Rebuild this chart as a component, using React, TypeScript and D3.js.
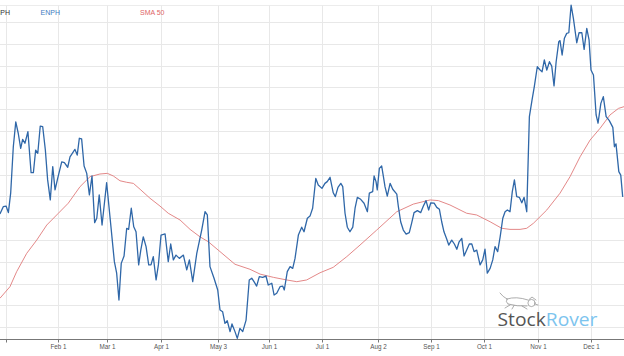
import React from "react";
import * as d3 from "d3";

const W = 624;
const H = 356;

// ENPH closing prices: day offset from 2021-01-01, price
const enphDays = [
  -1.7, 0.2, 1.8, 3.1, 4.4, 5.9, 7.3, 8.7, 10.1, 11.2, 12.5, 14.2, 16.0, 17.3, 18.6, 19.8, 21.2, 22.6, 24.1, 25.4,
  26.9, 28.3, 29.6, 31.1, 33.4, 34.9, 36.8, 38.1, 40.9, 42.2, 43.4, 44.7, 46.1, 47.6, 49.1, 50.6, 52.1, 53.3, 54.7, 56.3,
  58.9, 60.8, 63.3, 64.6, 65.9, 67.2, 68.8, 70.3, 71.4, 72.9, 74.3, 75.6, 77.1, 78.3, 79.7, 81.3, 82.8, 84.1, 85.4, 87.0,
  88.3, 89.8, 92.1, 93.9, 95.3, 96.8, 98.3, 100.2, 102.5, 104.4, 105.9, 107.8, 110.1, 112.9, 114.8, 116.1, 117.6, 119.9, 122.0, 123.3,
  124.8, 126.1, 127.4, 129.0, 130.1, 131.8, 133.1, 134.6, 136.2, 138.1, 139.9, 141.3, 142.6, 144.1, 145.6, 147.5, 149.4, 150.7, 152.7, 154.0,
  155.5, 157.4, 158.9, 159.8, 161.5, 163.1, 164.6, 165.9, 167.8, 169.7, 171.0, 172.9, 174.4, 175.9, 177.7, 179.1, 181.2, 182.9, 184.2, 185.8,
  187.6, 188.8, 190.3, 191.9, 193.0, 194.3, 195.6, 197.1, 198.7, 200.0, 201.3, 203.2, 205.1, 207.0, 208.1, 210.0, 210.8, 211.9, 212.6, 213.8,
  215.1, 216.1, 217.0, 218.3, 219.9, 221.4, 223.7, 224.6, 225.9, 227.4, 229.0, 230.8, 232.2, 233.5, 235.4, 237.3, 238.8, 240.3, 241.8, 243.0,
  244.9, 246.4, 247.9, 249.2, 250.5, 252.1, 253.2, 254.9, 256.4, 257.8, 259.1, 260.6, 261.9, 263.4, 264.9, 266.3, 267.6, 269.1, 271.0, 272.5,
  273.8, 275.1, 276.7, 278.2, 279.5, 281.0, 282.4, 283.9, 285.2, 286.5, 288.0, 289.3, 290.5, 291.8, 293.3, 294.7, 296.0, 297.5, 299.0, 300.5,
  301.8, 303.5, 305.1, 306.2, 307.5, 308.9, 310.4, 311.7, 313.0, 314.2, 315.7, 316.4, 317.6, 318.9, 320.2, 321.4, 322.7, 324.0, 325.9, 327.2,
  328.8, 330.1, 331.6, 332.9, 334.0, 335.4, 336.9, 338.0, 339.6, 341.0, 342.6, 344.4, 346.4, 347.3, 348.2, 349.8, 350.9, 352.0,
];
const enphPrices = [
  172.2, 175.5, 175.8, 172.8, 181.7, 203.0, 214.4, 209.2, 202.3, 206.4, 204.6, 209.9, 191.1, 191.1, 201.5, 200.0, 212.5, 212.2, 201.5, 187.8,
  178.6, 193.9, 183.2, 188.5, 196.1, 195.7, 193.6, 198.4, 201.8, 199.2, 206.9, 206.6, 194.2, 190.8, 180.9, 189.6, 168.2, 170.2, 180.9, 167.1,
  186.5, 170.9, 150.3, 145.0, 132.7, 149.5, 152.9, 165.6, 165.1, 174.8, 166.3, 164.0, 148.8, 155.6, 161.7, 157.2, 148.8, 148.8, 152.6, 141.9,
  148.8, 162.5, 163.0, 150.3, 158.4, 151.1, 153.3, 151.8, 153.3, 146.5, 151.1, 141.1, 154.1, 164.8, 173.2, 171.7, 148.0, 142.7, 137.3, 128.1,
  127.3, 122.0, 123.2, 118.2, 121.7, 118.2, 115.1, 119.7, 118.2, 123.5, 141.9, 142.7, 141.1, 139.1, 143.4, 143.1, 143.7, 139.6, 140.4, 135.0,
  135.8, 138.8, 139.1, 137.3, 145.7, 148.0, 147.2, 151.8, 162.5, 166.1, 164.0, 170.2, 171.2, 174.8, 188.5, 185.5, 183.9, 186.2, 187.0, 189.0,
  181.9, 180.1, 184.4, 186.2, 184.7, 172.5, 166.1, 164.0, 166.1, 174.8, 179.8, 178.9, 177.1, 173.2, 181.7, 182.4, 189.6, 187.0, 183.2, 193.1,
  194.2, 189.3, 184.7, 180.4, 186.2, 183.5, 181.3, 175.5, 168.6, 164.8, 162.9, 163.6, 168.2, 172.8, 173.7, 172.8, 175.8, 178.3, 174.0, 177.3,
  177.1, 175.2, 174.3, 168.6, 164.0, 160.6, 157.9, 160.2, 158.4, 156.0, 159.4, 161.0, 152.9, 155.6, 158.4, 158.4, 154.9, 155.6, 148.8, 151.1,
  156.0, 145.0, 147.2, 151.1, 157.2, 154.9, 161.7, 170.2, 173.2, 174.0, 173.2, 182.4, 187.8, 180.1, 179.8, 177.3, 179.8, 173.2, 216.8, 224.4,
  230.6, 239.7, 238.2, 237.4, 242.8, 238.2, 242.0, 240.0, 230.9, 242.0, 251.2, 251.7, 245.1, 252.8, 255.0, 255.3, 268.0, 261.9, 250.7, 255.3,
  255.3, 247.7, 257.3, 252.0, 238.2, 235.9, 217.6, 213.8, 222.9, 226.0, 216.8, 215.0, 211.9, 203.0, 204.3, 191.6, 190.0, 180.0,
];

// 50-day simple moving average
const smaDays = [
  -1.7, 4.0, 7.8, 13.5, 19.2, 24.9, 31.5, 37.1, 43.8, 49.5, 55.1, 59.3, 62.7, 66.5, 70.3, 74.1, 77.9, 83.5, 89.2, 93.9,
  100.6, 106.3, 111.9, 116.7, 123.3, 131.8, 140.3, 146.0, 153.6, 161.2, 166.9, 172.5, 180.1, 187.6, 195.3, 202.8, 212.3, 223.7, 233.1, 242.6,
  247.3, 253.9, 263.4, 269.1, 276.7, 283.3, 288.0, 293.7, 297.5, 301.3, 308.9, 316.4, 322.1, 327.8, 333.5, 339.2, 344.8, 349.6, 352.8,
];
const smaValues = [
  133.5, 138.8, 145.7, 154.1, 160.2, 167.1, 172.5, 177.1, 184.7, 189.3, 190.5, 190.8, 189.6, 187.4, 186.7, 186.2, 183.5, 179.4, 175.8, 172.5,
  169.4, 165.1, 161.7, 159.4, 154.9, 149.1, 146.8, 144.6, 143.1, 141.9, 141.1, 141.9, 145.2, 147.7, 152.6, 157.9, 164.8, 173.2, 176.7, 178.6,
  178.3, 176.3, 172.5, 171.7, 168.6, 165.6, 165.1, 165.1, 165.6, 167.9, 174.0, 181.7, 189.3, 198.4, 206.1, 211.5, 217.6, 220.6, 221.4,
];

const tickDates = ["2021-01-03", "2021-02-01", "2021-03-01", "2021-04-01", "2021-05-03", "2021-06-01", "2021-07-01", "2021-08-02", "2021-09-01", "2021-10-01", "2021-11-01", "2021-12-01"];
const tickLabels = ["", "Feb 1", "Mar 1", "Apr 1", "May 3", "Jun 1", "Jul 1", "Aug 2", "Sep 1", "Oct 1", "Nov 1", "Dec 1"];
const gridPrices = [120, 130, 140, 150, 160, 170, 180, 190, 200, 210, 220, 230, 240, 250, 260];

const legendItems = [
  { label: "ENPH", color: "#333333", x: -9.5 },
  { label: "ENPH", color: "#3f7cc0", x: 40.5 },
  { label: "SMA 50", color: "#e06666", x: 140 },
];

const DAY = 86400000;
const T0 = Date.UTC(2021, 0, 1);
const toDate = (d: number) => new Date(T0 + d * DAY);

export default function App() {
  const x = d3.scaleUtc().domain([new Date(T0), new Date(Date.UTC(2021, 11, 1))]).range([2.92, 591]);
  const y = d3.scaleLinear().domain([120, 260]).range([327.7, 22.5]);
  const axisY = 339.5;
  const top = 5.5;

  const enph = enphDays.map((d, i) => ({ date: toDate(d), v: enphPrices[i] }));
  const sma = smaDays.map((d, i) => ({ date: toDate(d), v: smaValues[i] }));
  const line = d3
    .line<{ date: Date; v: number }>()
    .x((p) => x(p.date))
    .y((p) => y(p.v));

  const ticks = tickDates.map((s, i) => {
    const [yy, mm, dd] = s.split("-").map(Number);
    return { x: Math.round(x(new Date(Date.UTC(yy, mm - 1, dd)))) + 0.5, label: tickLabels[i] };
  });

  return (
    <svg
      width={W}
      height={H}
      style={{ position: "absolute", left: 0, top: 0, background: "#fff" }}
      fontFamily="Arial, 'Liberation Sans', sans-serif"
    >
      <rect width={W} height={H} fill="#fff" />
      {/* horizontal grid */}
      <line x1={0} x2={W} y1={top} y2={top} stroke="#ececec" strokeWidth={1} />
      {gridPrices.map((p) => {
        const gy = Math.floor(y(p)) + 0.5;
        return <line key={p} x1={0} x2={W} y1={gy} y2={gy} stroke="#e8e8e8" strokeWidth={1} />;
      })}
      {/* vertical grid */}
      {ticks.map((t, i) => (
        <line key={i} x1={t.x} x2={t.x} y1={top} y2={axisY} stroke="#e8e8e8" strokeWidth={1} />
      ))}
      {/* legend */}
      {legendItems.map((l, i) => (
        <text key={i} x={l.x} y={15} fontSize={7} fill={l.color}>
          {l.label}
        </text>
      ))}
      {/* series */}
      <path d={line(sma) || ""} fill="none" stroke="#e07b7b" strokeWidth={0.9} />
      <path d={line(enph) || ""} fill="none" stroke="#2f67a8" strokeWidth={1.3} strokeLinejoin="round" />
      {/* x axis */}
      <line x1={0} x2={W} y1={axisY} y2={axisY} stroke="#777" strokeWidth={1} />
      {ticks.map((t, i) => (
        <g key={i}>
          <line x1={t.x} x2={t.x} y1={axisY} y2={axisY + 3} stroke="#777" strokeWidth={1} />
          <text x={t.x} y={348.5} fontSize={6.3} fill="#555" textAnchor="middle">
            {t.label}
          </text>
        </g>
      ))}
      {/* logo */}
      <g stroke="#8a8a8a" strokeWidth={0.7} fill="none" strokeLinecap="round">
        <path d="M500,293 Q503,297 507,299" />
        <path d="M507,299 Q516,296 528,300" />
        <path d="M508,304 Q517,306.5 527,306" />
        <path d="M507,299 Q505,302 508,304" />
        <circle cx={531.5} cy={303} r={3.6} fill="#fff" />
        <path d="M529,299.5 L532,297 L536,300" />
        <path d="M535,304 L538,305" />
        <path d="M510,305 L505,308 M514,305.5 L512,309 M522,306 L527,309" />
      </g>
      <text x={497.5} y={326} fontSize={18.5} fontFamily="'Open Sans', 'Noto Sans', sans-serif" textLength={100} lengthAdjust="spacingAndGlyphs">
        <tspan fill="#555">Stock</tspan>
        <tspan fill="#7cc4ee">Rover</tspan>
      </text>
    </svg>
  );
}
